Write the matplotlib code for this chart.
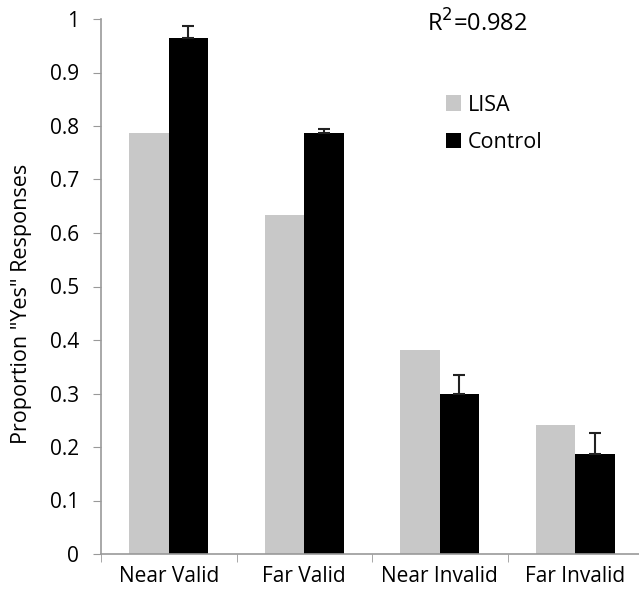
import matplotlib.pyplot as plt
import numpy as np

plt.rcParams['font.family'] = ['Open Sans', 'DejaVu Sans']

categories = ['Near Valid', 'Far Valid', 'Near Invalid', 'Far Invalid']
lisa = [0.787, 0.633, 0.381, 0.241]
control = [0.964, 0.787, 0.300, 0.186]
control_err = [0.022, 0.008, 0.035, 0.040]

fig = plt.figure(figsize=(6.39, 5.94), dpi=100)
ax = fig.add_axes([101/639, 40/594, 542/639, 535/594])

x = np.arange(len(categories))
w = 0.29
ax.bar(x - w/2, lisa, w, color='#c8c8c8', label='LISA')
ax.bar(x + w/2, control, w, color='black', label='Control',
       yerr=[np.zeros(len(control)), control_err], capsize=4,
       error_kw=dict(ecolor='#222222', elinewidth=1.5, capthick=1.5))

ax.set_xlim(-0.5, 3.5)
ax.set_ylim(0, 1)
ax.set_yticks(np.arange(0, 1.01, 0.1))
ax.set_yticklabels(['0', '0.1', '0.2', '0.3', '0.4', '0.5', '0.6', '0.7', '0.8', '0.9', '1'])
ax.set_xticks(x)
ax.set_xticklabels(categories)
ax.set_xticks(np.arange(-0.5, 3.6, 1), minor=True)
ax.tick_params(axis='x', which='major', length=0, pad=9, labelsize=15)
ax.tick_params(axis='x', which='minor', length=6, color='#999999')
ax.tick_params(axis='y', length=6, color='#999999', labelsize=15, pad=10)

for s in ['top', 'right']:
    ax.spines[s].set_visible(False)
for s in ['left', 'bottom']:
    ax.spines[s].set_color('#999999')
    ax.spines[s].set_linewidth(1.2)

ax.set_ylabel('Proportion "Yes" Responses', fontsize=15.5)
ax.yaxis.set_label_coords(-0.128, 0.468)

ax.text(0.695, 0.99, r'R$^2$=0.982', transform=ax.transAxes, fontsize=17,
        ha='center', va='center')
ax.legend(loc='upper left', bbox_to_anchor=(0.6, 0.895), frameon=False,
          fontsize=15.5, handlelength=0.7, handleheight=0.7, handletextpad=0.35,
          labelspacing=0.75)

plt.savefig('out.png', dpi=100)
